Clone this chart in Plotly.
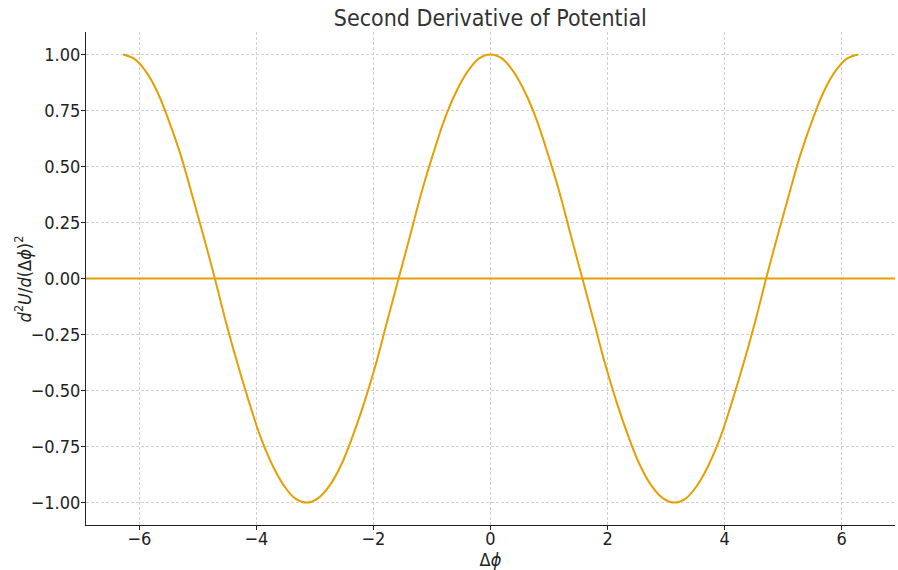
import plotly.graph_objects as go

# (Δφ, d²U/d(Δφ)²)
dphi = [-6.28, -6.09, -5.89, -5.69, -5.50, -5.30, -5.11, -4.91,
        -4.71, -4.52, -4.32, -4.12, -3.93, -3.73, -3.53, -3.34,
        -3.14, -2.95, -2.75, -2.55, -2.36, -2.16, -1.96, -1.77,
        -1.57, -1.37, -1.18, -0.98, -0.79, -0.59, -0.39, -0.20,
        0.00, 0.20, 0.39, 0.59, 0.79, 0.98, 1.18, 1.37,
        1.57, 1.77, 1.96, 2.16, 2.36, 2.55, 2.75, 2.95,
        3.14, 3.34, 3.53, 3.73, 3.93, 4.12, 4.32, 4.52,
        4.71, 4.91, 5.11, 5.30, 5.50, 5.69, 5.89, 6.09, 6.28]
d2U = [1.000, 0.981, 0.924, 0.831, 0.707, 0.556, 0.383, 0.195,
       0.000, -0.195, -0.383, -0.556, -0.707, -0.831, -0.924, -0.981,
       -1.000, -0.981, -0.924, -0.831, -0.707, -0.556, -0.383, -0.195,
       0.000, 0.195, 0.383, 0.556, 0.707, 0.831, 0.924, 0.981,
       1.000, 0.981, 0.924, 0.831, 0.707, 0.556, 0.383, 0.195,
       0.000, -0.195, -0.383, -0.556, -0.707, -0.831, -0.924, -0.981,
       -1.000, -0.981, -0.924, -0.831, -0.707, -0.556, -0.383, -0.195,
       0.000, 0.195, 0.383, 0.556, 0.707, 0.831, 0.924, 0.981, 1.000]
baseline = 0.0
x_ticks = [-6, -4, -2, 0, 2, 4, 6]
x_labels = ["−6", "−4", "−2", "0", "2", "4", "6"]
y_ticks = [-1.00, -0.75, -0.50, -0.25, 0.00, 0.25, 0.50, 0.75, 1.00]
y_labels = ["−1.00", "−0.75", "−0.50", "−0.25", "0.00", "0.25", "0.50", "0.75", "1.00"]

color = "#E69F00"
font = "DejaVu Sans Condensed, Liberation Sans Narrow, DejaVu Sans"

fig = go.Figure()
fig.add_trace(go.Scatter(x=dphi, y=d2U, mode="lines",
                         line=dict(color=color, width=2, shape="spline", smoothing=1.0),
                         showlegend=False, hoverinfo="skip"))
fig.add_hline(y=baseline, line=dict(color=color, width=2))

axis_common = dict(showgrid=True, gridcolor="#cfcfcf", griddash="3px,2px", gridwidth=1,
                   zeroline=False, showline=True, linecolor="#222222", linewidth=1.2,
                   ticks="outside", ticklen=4, tickcolor="#222222", tickwidth=1,
                   tickfont=dict(family=font, size=18, color="#222222"), mirror=False,
                   automargin=False)

fig.update_layout(
    width=898, height=570,
    margin=dict(l=86, r=3, t=32, b=45),
    paper_bgcolor="white", plot_bgcolor="white",
    title=dict(text="Second Derivative of Potential", x=0.546, xanchor="center", y=0.969, yanchor="middle",
               font=dict(family=font, size=23, color="#333333")),
    xaxis=dict(range=[-6.912, 6.912], tickvals=x_ticks, ticktext=x_labels, ticklabelstandoff=-7,
               title=dict(text="Δ<i>ϕ</i>", font=dict(family=font, size=18, color="#222222"), standoff=6),
               **axis_common),
    yaxis=dict(range=[-1.1, 1.1], tickvals=y_ticks, ticktext=y_labels, ticklabelstandoff=-3,
               **axis_common),
    annotations=[dict(text="<i>d</i><sup>2</sup><i>U</i>/<i>d</i>(Δ<i>ϕ</i>)<sup>2</sup>",
                      xref="paper", yref="paper", x=-0.078, y=0.5, xanchor="center", yanchor="middle",
                      textangle=-90, showarrow=False,
                      font=dict(family=font, size=18, color="#222222"))],
)

fig.write_html("out.html")
